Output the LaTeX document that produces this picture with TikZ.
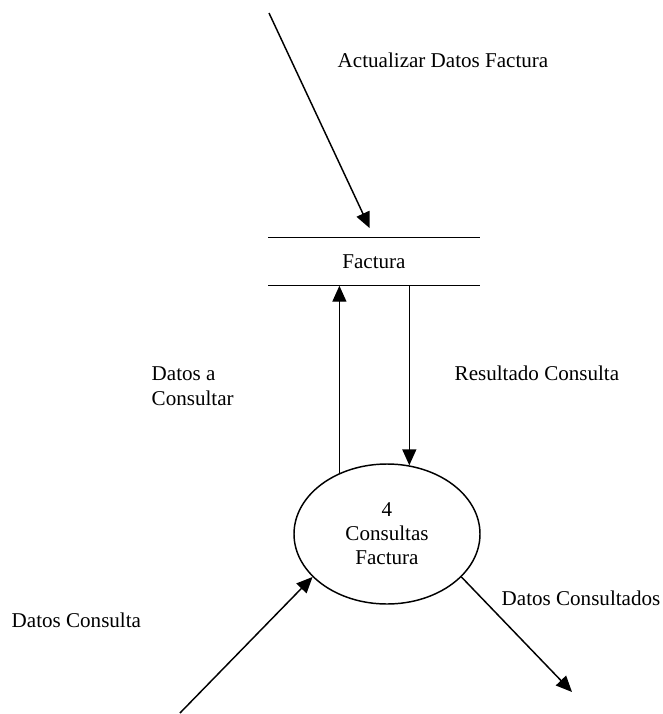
\documentclass[tikz,border=0pt]{standalone}
\usepackage{fontspec}
\setmainfont{Liberation Serif}
\usetikzlibrary{arrows.meta,shapes.geometric,positioning}

\begin{document}
\begin{tikzpicture}[x=0.75pt,y=-0.75pt,line width=1.1pt,
  txt/.style={inner sep=0pt,anchor=west,align=left,font=\fontsize{15.8pt}{19pt}\selectfont},
  flow/.style={-{Triangle[length=12pt,width=10.5pt]}}]
\useasboundingbox (0,0) rectangle (663,714);

% almacen y proceso
\node (f) at (374,261.5) [minimum width=157.5pt,minimum height=35.25pt,inner sep=0pt,
  font=\fontsize{15.8pt}{19pt}\selectfont] {Factura};
\draw (f.north west) -- (f.north east);
\draw (f.south west) -- (f.south east);

\node (p4) at (387,534) [draw,ellipse,minimum width=139.5pt,minimum height=105pt,inner sep=0pt,
  align=center,font=\fontsize{15.8pt}{18pt}\selectfont] {4\\Consultas\\Factura};

\coordinate (c0) at (269,13);
\coordinate (c1) at (180,713);
\coordinate (c2) at (572,692);

\draw[flow,shorten >=7.5pt] (c0) -- (f.north);
\draw[flow] (p4.128) -- (p4.128 |- f.south);
\draw[flow] (p4.72 |- f.south) -- (p4.72);
\draw[flow] (c1) -- (p4.210);
\draw[flow] (p4.330) -- (c2);

\node (l0) at (337,60) [txt] {Actualizar Datos Factura};
\node (l1) at (151,386) [txt] {Datos a\\Consultar};
\node (l2) at (454,373) [txt] {Resultado Consulta};
\node (l3) at (11,620) [txt] {Datos Consulta};
\node (l4) at (501,598) [txt] {Datos Consultados};
\end{tikzpicture}
\end{document}
